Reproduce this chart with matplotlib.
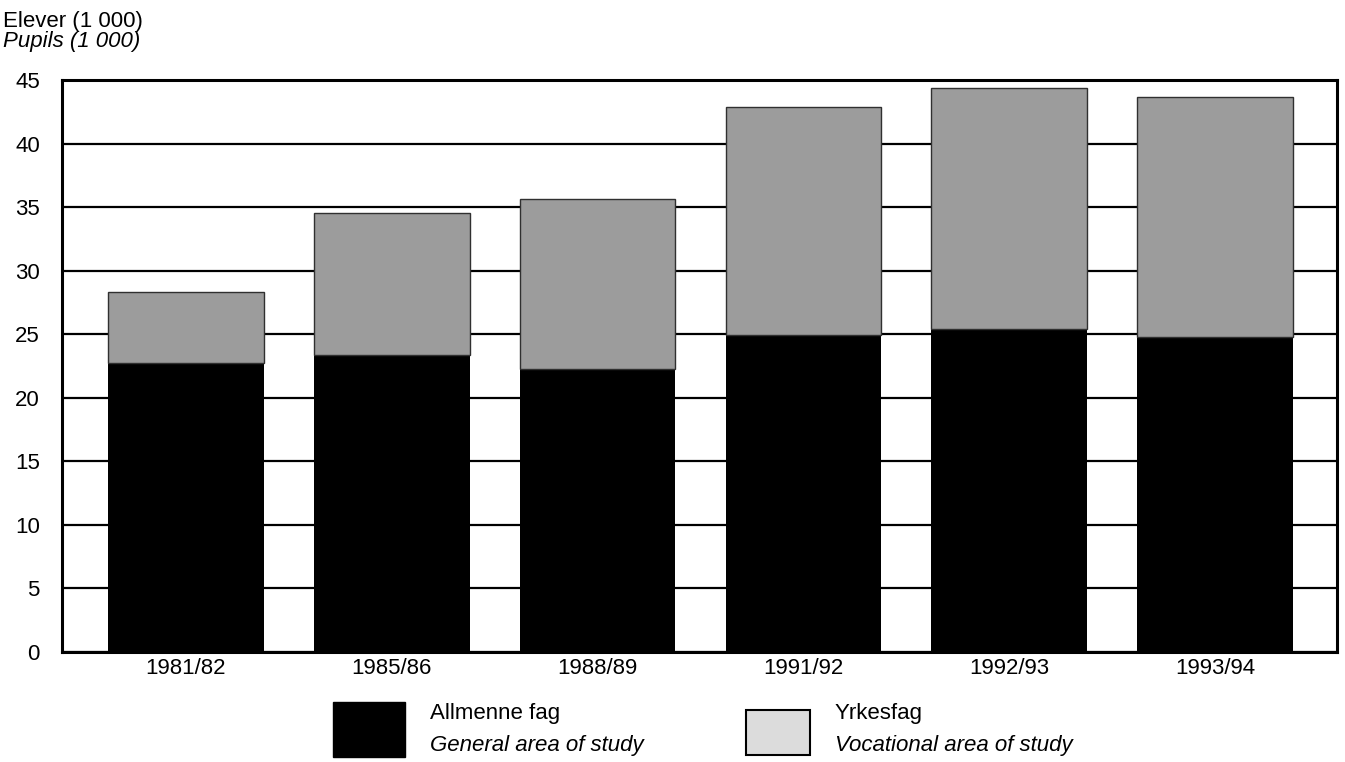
import matplotlib.pyplot as plt
import matplotlib.patches as mpatches
import numpy as np

years = ['1981/82', '1985/86', '1988/89', '1991/92', '1992/93', '1993/94']
general = [22.7, 23.4, 22.3, 24.9, 25.4, 24.8]
total = [28.3, 34.5, 35.6, 42.9, 44.4, 43.7]
vocational = [t - g for t, g in zip(total, general)]

plt.rcParams['font.family'] = ['Liberation Sans Narrow', 'Liberation Sans', 'DejaVu Sans']
FS = 16

fig = plt.figure(figsize=(13.45, 7.62), dpi=100)
ax = fig.add_axes([0.0461, 0.1444, 0.9479, 0.7506])

x = np.arange(len(years))
ax.bar(x, general, width=0.757, color='black', zorder=3)
ax.bar(x, vocational, width=0.757, bottom=general, color='#9c9c9c',
       edgecolor='#303030', linewidth=1.0, zorder=3)

ax.set_xlim(-0.6, 5.59)
ax.set_ylim(0, 45)
ax.set_yticks(range(0, 46, 5))
ax.set_xticks(x)
ax.set_xticklabels(years)
ax.tick_params(length=0, labelsize=FS)
ax.tick_params(axis='x', pad=4)
ax.tick_params(axis='y', pad=16)
ax.grid(axis='y', color='black', linewidth=1.6, zorder=1)
for s in ax.spines.values():
    s.set_linewidth(2.2)

fig.text(0.002, 1 - 21 / 762, 'Elever (1 000)', fontsize=FS, va='center')
fig.text(0.002, 1 - 41 / 762, 'Pupils (1 000)', fontsize=FS, style='italic', va='center')

# legend
fig.patches.append(mpatches.Rectangle((333 / 1345, 1 - 757 / 762), 72 / 1345, 55 / 762,
                                      transform=fig.transFigure, facecolor='black',
                                      edgecolor='black'))
fig.patches.append(mpatches.Rectangle((746 / 1345, 1 - 755 / 762), 64 / 1345, 45 / 762,
                                      transform=fig.transFigure, facecolor='#dcdcdc',
                                      edgecolor='black', linewidth=1.5))
fig.text(430 / 1345, 1 - 713 / 762, 'Allmenne fag', fontsize=FS, va='center')
fig.text(430 / 1345, 1 - 745 / 762, 'General area of study', fontsize=FS,
         style='italic', va='center')
fig.text(835 / 1345, 1 - 713 / 762, 'Yrkesfag', fontsize=FS, va='center')
fig.text(835 / 1345, 1 - 745 / 762, 'Vocational area of study', fontsize=FS,
         style='italic', va='center')

fig.savefig('out.png', dpi=100)
